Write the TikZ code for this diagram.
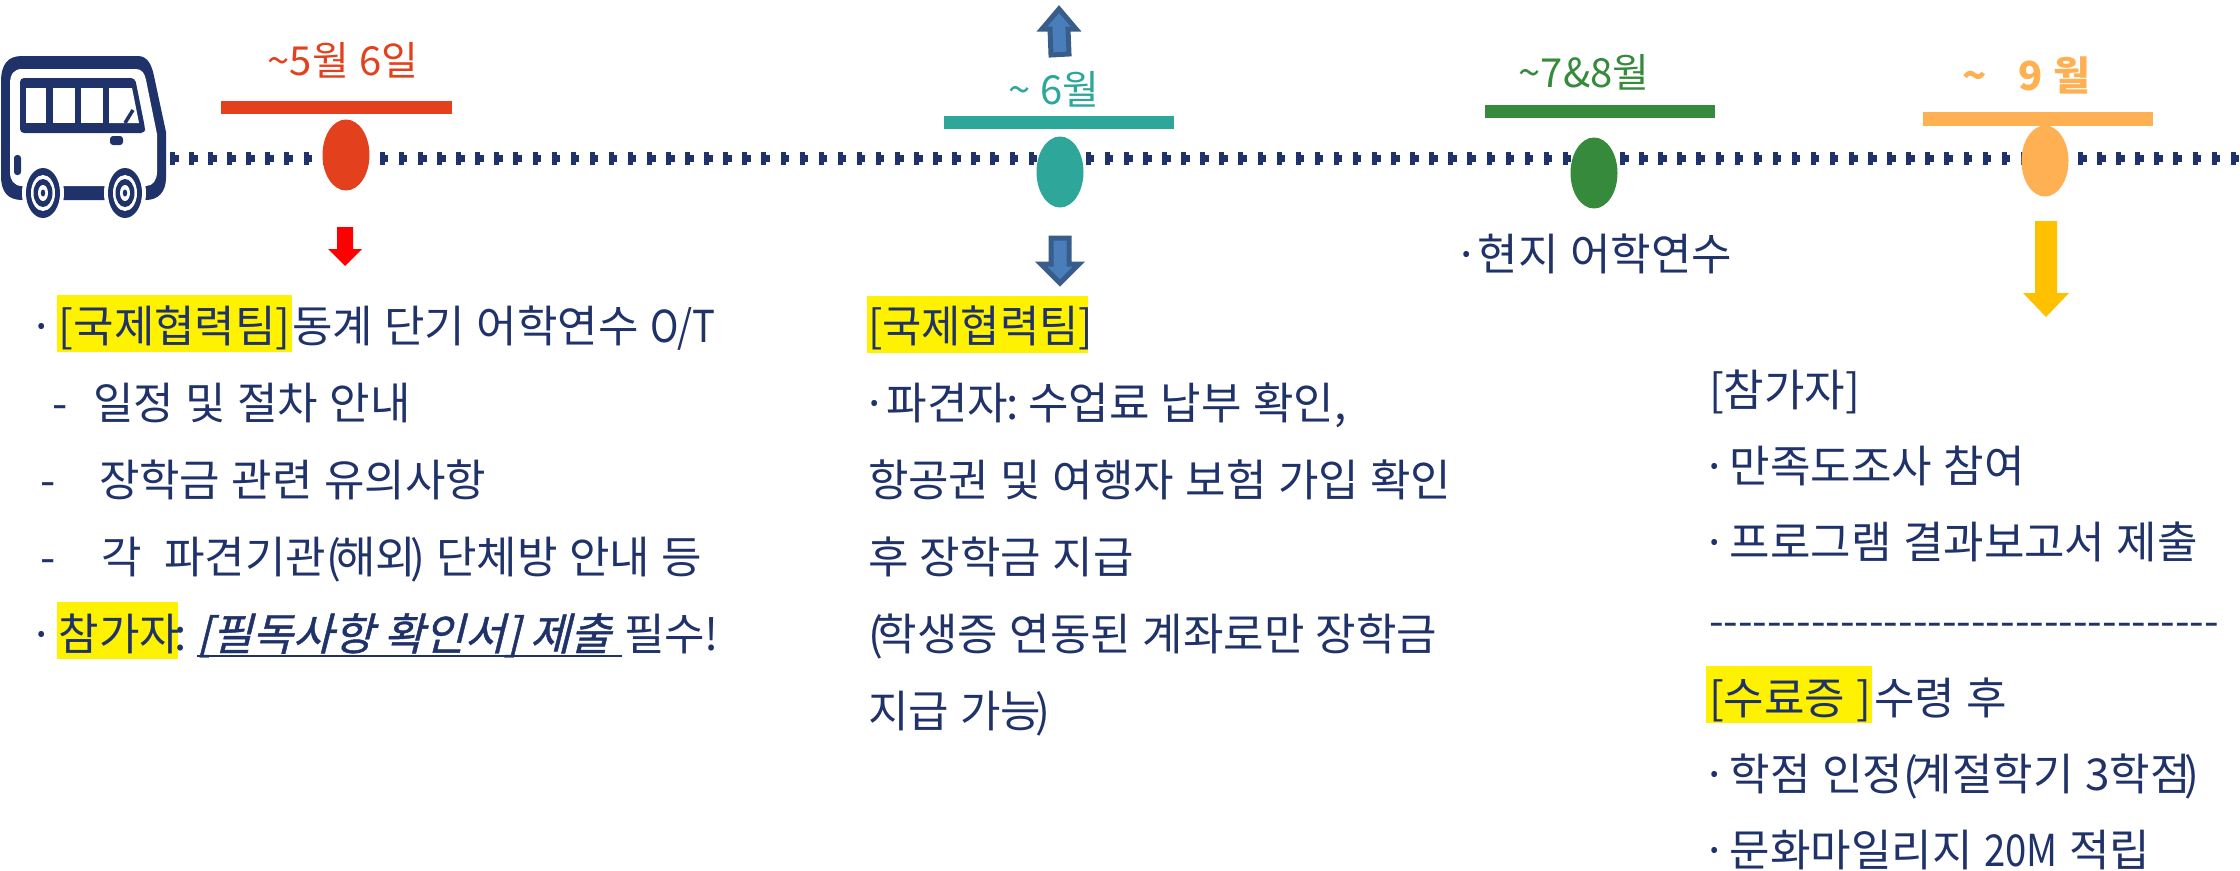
\documentclass[tikz,border=0pt]{standalone}
\usepackage{fontspec}
\usepackage{graphicx}
\setmainfont[WordSpace=1.16]{Noto Sans CJK KR}
\newfontfamily\slantfont[FakeSlant=0.25,FakeBold=1]{Noto Sans CJK KR}
\usetikzlibrary{shapes.geometric}
\definecolor{navy}{HTML}{1F3269}
\definecolor{redo}{HTML}{E3411E}
\definecolor{teal2}{HTML}{2EA79A}
\definecolor{green2}{HTML}{368A3C}
\definecolor{orange2}{HTML}{FFB053}
\definecolor{blue2}{HTML}{4A7EBB}
\definecolor{blue3}{HTML}{385D8A}
\definecolor{gold}{HTML}{FFC000}
\tikzset{
 x=1pt,y=-1pt,
 bodytxt/.style={anchor=base west,inner sep=0pt,outer sep=0pt,text=navy,font=\fontsize{44}{44}\selectfont},
 headtxt/.style={anchor=base,inner sep=0pt,font=\fontsize{40}{40}\selectfont},
 pinnode/.style={ellipse,minimum width=47pt,minimum height=71pt,inner sep=0pt,draw=none},
}
\newcommand{\hl}[4]{\fill[yellow] (#1,#2) rectangle (#3,#4);}
\newcommand{\lp}{(\kern-6pt\relax}
\newcommand{\rp}{\kern-6pt)}
\newcommand{\tightlat}[1]{\scalebox{.87}[1]{#1}}
\newcommand{\dotl}{·\kern3pt\relax}
\newcommand{\dotn}{·\kern5pt\relax}
\begin{document}
\begin{tikzpicture}
\useasboundingbox (0,0) rectangle (2240,870);
% dotted timeline
\coordinate (lineStart) at (170,158);
\coordinate (lineEnd) at (2240,158);
\draw[navy,line width=7pt,dash pattern=on 8.5pt off 10.58pt] (lineStart) -- (lineEnd);
\draw[navy,line width=13pt,dash pattern=on 5pt off 14.08pt,xshift=1.75pt] (lineStart) -- (lineEnd);
% bus
\fill[navy] (1,82) .. controls (1,64) and (8,56) .. (22,56) -- (138,56) .. controls (148,56) and (152,66) .. (154,76) -- (166,132) -- (166,178) .. controls (166,192) and (158,200) .. (146,200) -- (22,200) .. controls (8,200) and (1,192) .. (1,176) -- cycle;
\fill[white] (10,84) .. controls (10,74) and (14,69) .. (22,69) -- (136,69) .. controls (142,69) and (145,74) .. (146,80) -- (157,134) -- (157,172) .. controls (157,180) and (153,186) .. (146,186) -- (22,186) .. controls (14,186) and (10,180) .. (10,172) -- cycle;
\fill[navy,rounded corners=4pt] (20,78) -- (135,78) -- (145,128) -- (145,133) -- (20,133) -- cycle;
\fill[white] (26,88) rectangle (46,123);
\fill[white] (53,88) rectangle (75,123);
\fill[white] (81,88) rectangle (103,123);
\fill[white] (109,88) -- (132,88) -- (139,123) -- (109,123) -- cycle;
\draw[navy,line width=3.5pt] (125,123) -- (133,110);
\fill[navy,rounded corners=3pt] (110,136) rectangle (123,145);
\fill[navy,rounded corners=3pt] (14,155) rectangle (21,175);
\foreach \cx in {43,125}{
 \fill[white] (\cx,193) ellipse [x radius=21,y radius=30];
 \fill[navy] (\cx,193) ellipse [x radius=17,y radius=25];
 \fill[white] (\cx,193) ellipse [x radius=12,y radius=18];
 \fill[navy] (\cx,193) ellipse [x radius=9.5,y radius=14];
 \fill[white] (\cx,193) ellipse [x radius=5,y radius=8];
 \fill[navy] (\cx,193) ellipse [x radius=2.2,y radius=3.5];
}
% pins and bars
\node[pinnode,fill=redo] (p1) at (346,155) {};
\node[pinnode,fill=teal2] (p2) at (1060,172) {};
\node[pinnode,fill=green2] (p3) at (1594,173) {};
\node[pinnode,fill=orange2] (p4) at (2045,161) {};
\fill[redo] (221,101) rectangle (452,114);
\fill[teal2] (944,116) rectangle (1174,129);
\fill[green2] (1485,105) rectangle (1715,118);
\fill[orange2] (1923,112) rectangle (2153,126);
\node[headtxt,text=redo] (d1) at (343,75) {\textasciitilde5월 6일};
\node[headtxt,text=teal2] (d2) at (1054,104) {\textasciitilde{} 6월};
\node[headtxt,text=green2] (d3) at (1584,87) {\textasciitilde7\&8월};
\node[headtxt,text=orange2,font=\fontsize{40}{40}\bfseries\selectfont] (d4) at (2026,90) {\textasciitilde{}\ \ \ 9 월};
% block arrows
\fill[red] (337,227) -- (353,227) -- (353,249) -- (362,249) -- (345,266) -- (328,249) -- (337,249) -- cycle;
\draw[blue3,fill=blue2,line width=5pt,line join=miter] (1051,55) -- (1069,54) -- (1068,29) -- (1076,29) -- (1059,9) -- (1042,29) -- (1050,29) -- cycle;
\draw[blue3,fill=blue2,line width=5pt,line join=miter] (1051,238) -- (1069,238) -- (1069,264) -- (1079,264) -- (1060,283) -- (1041,264) -- (1051,264) -- cycle;
\fill[gold] (2035,221) -- (2057,221) -- (2057,293) -- (2069,293) -- (2046,317) -- (2023,293) -- (2035,293) -- cycle;
% left column
\hl{57}{295}{292}{352}
\hl{57}{602}{178}{659}
\node[bodytxt] (a1) at (29,342) {\dotn{}[국제협력팀]};
\node[bodytxt] (a1b) at (292,342) {동계 단기 어학연수 \tightlat{O/T}};
\node[bodytxt] (a2) at (52,419) {-};
\node[bodytxt] (a2b) at (93,419) {일정 및 절차 안내};
\node[bodytxt] (a3) at (40,496) {-};
\node[bodytxt] (a3b) at (99,496) {장학금 관련 유의사항};
\node[bodytxt] (a4) at (40,573) {-};
\node[bodytxt] (a4b) at (101,573) {각 \ 파견기관\lp 해외\rp{} 단체방 안내 등};
\node[bodytxt] (a5) at (29,650) {\dotn{}참가자\kern-6pt:};
\node[bodytxt] (a5b) at (197,650) {\slantfont [필독사항 확인서] 제출};
\draw[navy,line width=2.5pt] (197,656) -- (622,656);
\node[bodytxt] (a5c) at (624,650) {필수!};
% middle column
\hl{867}{296}{1088}{353}
\node[bodytxt] (b1) at (868,342) {\scalebox{.97}[1]{[국제협력팀]}};
\node[bodytxt] (b2) at (862,419) {·\kern0pt\relax{}파견자\kern-2pt:\kern-5pt\relax{} 수업료 납부 확인,};
\node[bodytxt] (b3) at (868,496) {항공권 및 여행자 보험 가입 확인};
\node[bodytxt] (b4) at (868,573) {후 장학금 지급};
\node[bodytxt] (b5) at (868,650) {\lp 학생증 연동된 계좌로만 장학금};
\node[bodytxt] (b6) at (868,727) {지급 가능\rp};
% current
\node[bodytxt] (c0) at (1454,270) {·\kern-1pt\relax{}현지 어학연수};
% right column
\hl{1706}{666}{1872}{723}
\node[bodytxt] (e1) at (1709,406) {[참가자]};
\node[bodytxt] (e2) at (1702,482) {\dotl{}만족도조사 참여};
\node[bodytxt] (e3) at (1702,558) {\dotl{}프로그램 결과보고서 제출};
\node[bodytxt,font=\fontsize{42}{42}\selectfont] (e4) at (1709,636) {-{}-{}-{}-{}-{}-{}-{}-{}-{}-{}-{}-{}-{}-{}-{}-{}-{}-{}-{}-{}-{}-{}-{}-{}-{}-{}-{}-{}-{}-{}-{}-{}-{}-{}-};
\node[bodytxt] (e5) at (1709,714) {[수료증 ]};
\node[bodytxt] (e5b) at (1874,714) {수령 후};
\node[bodytxt] (e6) at (1702,790) {\dotl{}학점 인정\lp 계절학기 3학점\rp};
\node[bodytxt] (e7) at (1702,866) {\dotl{}문화마일리지 \tightlat{20M} 적립};
\end{tikzpicture}
\end{document}
